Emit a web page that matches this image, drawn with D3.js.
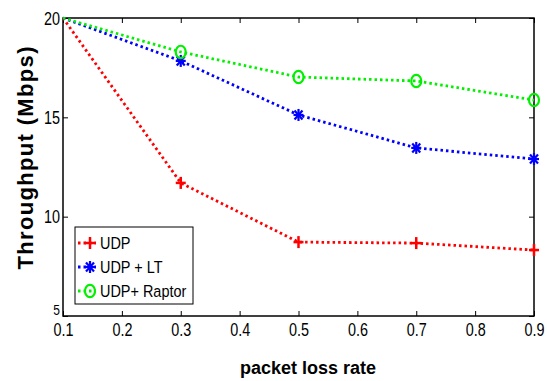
<!DOCTYPE html>
<html>
<head>
<meta charset="utf-8">
<script src="https://cdn.jsdelivr.net/npm/d3@7"></script>
<style>
  body { margin: 0; background: #fff; }
  text { font-family: "Liberation Sans", Arial, sans-serif; }
</style>
</head>
<body>
<svg id="chart" width="547" height="381"></svg>
<script>
// data
const lossRates = [0.1, 0.3, 0.5, 0.7, 0.9];
const udp = [20, 11.7, 8.72, 8.67, 8.32];
const udpLT = [20, 17.84, 15.12, 13.46, 12.9];
const udpRaptor = [20, 18.29, 17.03, 16.83, 15.87];
const xTicks = [0.1, 0.2, 0.3, 0.4, 0.5, 0.6, 0.7, 0.8, 0.9];
const yTicks = [5, 10, 15, 20];
const seriesNames = ['UDP', 'UDP + LT', 'UDP+ Raptor'];

// plot box
const box = { left: 63, right: 534, top: 18, bottom: 316 };

const svg = d3.select('#chart');

const x = d3.scaleLinear().domain([0.1, 0.9]).range([box.left, box.right]);
const y = d3.scaleLinear().domain([5, 20]).range([box.bottom, box.top]);

// ticks pointing inward on all four sides
svg.append('g')
    .attr('transform', 'translate(0,' + box.bottom + ')')
    .call(d3.axisBottom(x).tickValues(xTicks).tickSizeInner(-5).tickSizeOuter(0).tickFormat(d3.format('.1f')))
    .call(g => g.select('.domain').remove())
    .call(g => g.selectAll('line').attr('stroke', '#000').attr('stroke-width', 1))
    .call(g => g.selectAll('text')
        .attr('y', 7).attr('dy', '0.71em')
        .attr('font-size', 18).attr('fill', '#000')
        .attr('transform', 'scale(0.8,1)'));

svg.append('g')
    .attr('transform', 'translate(0,' + box.top + ')')
    .call(d3.axisTop(x).tickValues(xTicks).tickSizeInner(-5).tickSizeOuter(0).tickFormat(''))
    .call(g => g.select('.domain').remove())
    .call(g => g.selectAll('line').attr('stroke', '#000'));

svg.append('g')
    .attr('transform', 'translate(' + box.left + ',0)')
    .call(d3.axisLeft(y).tickValues(yTicks).tickSizeInner(-5).tickSizeOuter(0))
    .call(g => g.select('.domain').remove())
    .call(g => g.selectAll('line').attr('stroke', '#000'))
    .call(g => g.selectAll('text')
        .attr('x', -3.75).attr('dy', d => d === 5 ? '-0.1em' : '0.34em')
        .attr('font-size', d => d === 5 ? 15 : 18).attr('fill', '#000')
        .attr('transform', 'scale(0.8,1)'));

svg.append('g')
    .attr('transform', 'translate(' + box.right + ',0)')
    .call(d3.axisRight(y).tickValues(yTicks).tickSizeInner(-5).tickSizeOuter(0).tickFormat(''))
    .call(g => g.select('.domain').remove())
    .call(g => g.selectAll('line').attr('stroke', '#000'));

// box
svg.append('rect')
    .attr('x', box.left).attr('y', box.top)
    .attr('width', box.right - box.left).attr('height', box.bottom - box.top)
    .attr('fill', 'none')
    .attr('stroke', '#000')
    .attr('stroke-width', 1.5);

const line = d3.line()
    .x((d, i) => x(lossRates[i]))
    .y(d => y(d));

const series = [
    { name: seriesNames[0], values: udp, color: '#ff0000', marker: 'plus' },
    { name: seriesNames[1], values: udpLT, color: '#0000ff', marker: 'star' },
    { name: seriesNames[2], values: udpRaptor, color: '#00f000', marker: 'circle' }
];

function drawMarker(g, type, color) {
    if (type === 'plus') {
        g.append('line').attr('x1', -5).attr('x2', 5).attr('y1', 0).attr('y2', 0);
        g.append('line').attr('x1', 0).attr('x2', 0).attr('y1', -6).attr('y2', 6);
        g.selectAll('line').attr('stroke', color).attr('stroke-width', 2.5);
    } else if (type === 'star') {
        g.append('line').attr('x1', -5).attr('x2', 5).attr('y1', 0).attr('y2', 0);
        g.append('line').attr('x1', 0).attr('x2', 0).attr('y1', -6).attr('y2', 6);
        g.append('line').attr('x1', -4).attr('x2', 4).attr('y1', -4.5).attr('y2', 4.5);
        g.append('line').attr('x1', -4).attr('x2', 4).attr('y1', 4.5).attr('y2', -4.5);
        g.selectAll('line').attr('stroke', color).attr('stroke-width', 2.2);
    } else {
        g.append('ellipse').attr('rx', 5).attr('ry', 6.2)
            .attr('fill', 'none').attr('stroke', color).attr('stroke-width', 2.2);
    }
}

series.forEach(s => {
    svg.append('path')
        .datum(s.values)
        .attr('d', line)
        .attr('fill', 'none')
        .attr('stroke', s.color)
        .attr('stroke-width', 2.8)
        .attr('stroke-dasharray', '2.5,3');
    s.values.forEach((v, i) => {
        if (i === 0) return;
        const g = svg.append('g').attr('transform', 'translate(' + x(lossRates[i]) + ',' + y(v) + ')');
        drawMarker(g, s.marker, s.color);
    });
});

// legend
const legend = svg.append('g').attr('transform', 'translate(75,227)');
legend.append('rect')
    .attr('width', 118).attr('height', 77)
    .attr('fill', '#fff').attr('stroke', '#000').attr('stroke-width', 1);
series.forEach((s, i) => {
    const cy = 16 + i * 24;
    legend.append('line')
        .attr('x1', 3).attr('x2', 21).attr('y1', cy).attr('y2', cy)
        .attr('stroke', s.color).attr('stroke-width', 2.8)
        .attr('stroke-dasharray', '2.5,3');
    const g = legend.append('g').attr('transform', 'translate(15,' + cy + ')');
    drawMarker(g, s.marker, s.color);
    legend.append('text')
        .attr('x', 25 / 0.85).attr('y', cy).attr('dy', '0.36em')
        .attr('font-size', 17)
        .attr('transform', 'scale(0.85,1)')
        .text(s.name);
});

// axis titles
svg.append('text')
    .attr('x', 308).attr('y', 374)
    .attr('text-anchor', 'middle')
    .attr('font-size', 18).attr('font-weight', 'bold')
    .text('packet loss rate');

svg.append('text')
    .attr('transform', 'translate(33,158) rotate(-90)')
    .attr('text-anchor', 'middle')
    .attr('font-size', 22).attr('font-weight', 'bold')
    .attr('textLength', 223).attr('lengthAdjust', 'spacing')
    .text('Throughput (Mbps)');
</script>
</body>
</html>
